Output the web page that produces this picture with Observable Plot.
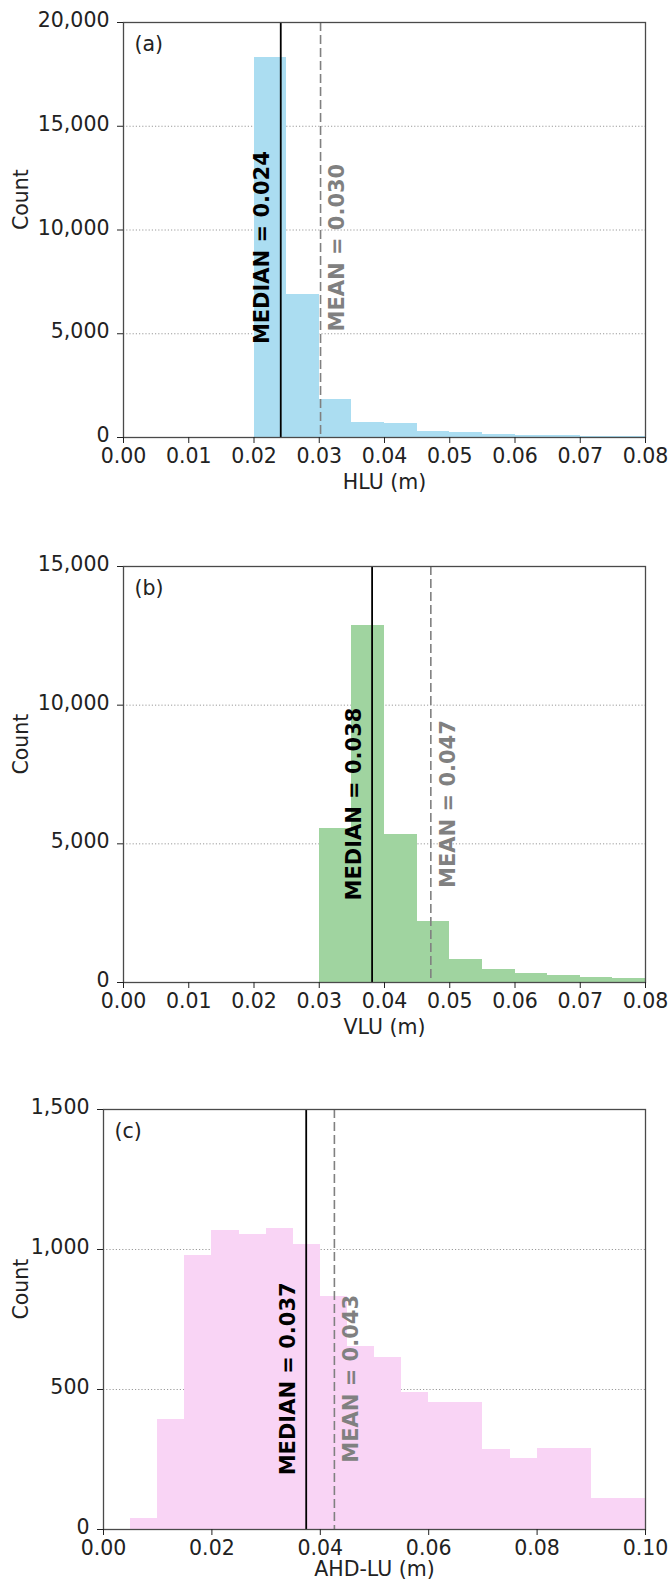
<!DOCTYPE html>
<html>
<head>
<meta charset="utf-8">
<script src="https://cdn.jsdelivr.net/npm/d3@7"></script>
<script src="https://cdn.jsdelivr.net/npm/@observablehq/plot@0.6"></script>
<style>
  html, body { margin: 0; padding: 0; background: #fff; }
  #chart { width: 672px; }
  #chart svg { display: block; }
</style>
</head>
<body>
<div id="chart"></div>
<script>
// ---- Panel (a): HLU ----
const hluEdges = [0.020, 0.025, 0.030, 0.035, 0.040, 0.045, 0.050, 0.055, 0.060, 0.065, 0.070, 0.075, 0.080];
const hluCounts = [18300, 6870, 1820, 710, 660, 305, 240, 145, 110, 96, 64, 48];
const hluMedian = 0.0241, hluMean = 0.0302;
const hluMedianLabel = "MEDIAN = 0.024", hluMeanLabel = "MEAN = 0.030";
const hluXTicks = [0, 0.01, 0.02, 0.03, 0.04, 0.05, 0.06, 0.07, 0.08];
const hluYTicks = [0, 5000, 10000, 15000, 20000];

// ---- Panel (b): VLU ----
const vluEdges = [0.030, 0.035, 0.040, 0.045, 0.050, 0.055, 0.060, 0.065, 0.070, 0.075, 0.080];
const vluCounts = [5560, 12870, 5340, 2190, 840, 480, 310, 260, 170, 160];
const vluMedian = 0.0381, vluMean = 0.0471;
const vluMedianLabel = "MEDIAN = 0.038", vluMeanLabel = "MEAN = 0.047";
const vluXTicks = [0, 0.01, 0.02, 0.03, 0.04, 0.05, 0.06, 0.07, 0.08];
const vluYTicks = [0, 5000, 10000, 15000];

// ---- Panel (c): AHD-LU ----
const ahdEdges = [0.005, 0.010, 0.015, 0.020, 0.025, 0.030, 0.035, 0.040, 0.045, 0.050, 0.055, 0.060, 0.070, 0.075, 0.080, 0.090, 0.100];
const ahdCounts = [40, 393, 980, 1068, 1054, 1076, 1019, 832, 654, 613, 490, 455, 285, 254, 288, 110];
const ahdMedian = 0.0374, ahdMean = 0.0426;
const ahdMedianLabel = "MEDIAN = 0.037", ahdMeanLabel = "MEAN = 0.043";
const ahdXTicks = [0, 0.02, 0.04, 0.06, 0.08, 0.10];
const ahdYTicks = [0, 500, 1000, 1500];

function panel(o) {
  const bins = o.counts.map((c, i) => ({x1: o.edges[i], x2: o.edges[i + 1], count: c}));
  const half = d3.max(o.counts) / 2;
  const yMax = d3.max(o.yTicks);
  const svg = Plot.plot({
    width: 672,
    height: o.height,
    marginTop: o.marginTop,
    marginBottom: o.marginBottom,
    marginLeft: o.marginLeft,
    marginRight: 27,
    x: {domain: o.xDomain},
    y: {domain: [0, yMax]},
    style: {fontFamily: "'DejaVu Sans', sans-serif", fontSize: "20.5px", color: "#222", background: "#fff", overflow: "visible"},
    marks: [
      Plot.gridY(o.yTicks.filter(d => d > 0), {stroke: "#8f8f8f", strokeOpacity: 1, strokeWidth: 0.9, strokeDasharray: "1.2,2"}),
      Plot.rect(bins, {x1: "x1", x2: "x2", y1: 0, y2: "count", fill: o.fill, shapeRendering: "crispEdges"}),
      Plot.ruleX([o.median], {stroke: "#000", strokeWidth: 1.8}),
      Plot.ruleX([o.mean], {stroke: "#808080", strokeWidth: 1.6, strokeDasharray: "9,4"}),
      Plot.text([{x: o.median, y: half, t: o.medianLabel}], {x: "x", y: "y", text: "t", rotate: -90, dx: -18, lineAnchor: "middle", fontWeight: "bold", fill: "#000", fontSize: 21}),
      Plot.text([{x: o.mean, y: half, t: o.meanLabel}], {x: "x", y: "y", text: "t", rotate: -90, dx: 17, lineAnchor: "middle", fontWeight: "bold", fill: "#808080", fontSize: 21}),
      Plot.frame({stroke: "#4a4a4a", strokeWidth: 1.3}),
      Plot.axisX({ticks: o.xTicks, tickFormat: d3.format(".2f"), tickSize: 6, tickPadding: 5, label: null}),
      Plot.axisY({ticks: o.yTicks, tickFormat: () => "", tickSize: 6, label: null}),
      Plot.axisY({ticks: o.yTicks, tickFormat: d3.format(","), tickSize: 0, tickPadding: 14, label: null, dy: -2}),
      Plot.text([o.xLabel], {frameAnchor: "bottom", dy: o.xLabelDy, lineAnchor: "middle", fill: "#222"}),
      Plot.text(["Count"], {frameAnchor: "left", dx: 21 - o.marginLeft, rotate: -90, lineAnchor: "middle", fill: "#222"}),
      Plot.text([o.tag], {frameAnchor: "top-left", dx: 11, dy: 22, textAnchor: "start", lineAnchor: "middle", fill: "#222"})
    ]
  });
  return svg;
}

const chart = document.getElementById("chart");
chart.append(panel({
  edges: hluEdges, counts: hluCounts, fill: "#abddf1",
  median: hluMedian, mean: hluMean, medianLabel: hluMedianLabel, meanLabel: hluMeanLabel,
  xDomain: [0, 0.08], xTicks: hluXTicks, yTicks: hluYTicks,
  xLabel: "HLU (m)", xLabelDy: 45, tag: "(a)",
  height: 520, marginTop: 22, marginBottom: 83, marginLeft: 123
}));
chart.append(panel({
  edges: vluEdges, counts: vluCounts, fill: "#a0d4a0",
  median: vluMedian, mean: vluMean, medianLabel: vluMedianLabel, meanLabel: vluMeanLabel,
  xDomain: [0, 0.08], xTicks: vluXTicks, yTicks: vluYTicks,
  xLabel: "VLU (m)", xLabelDy: 45, tag: "(b)",
  height: 542, marginTop: 46, marginBottom: 80, marginLeft: 123
}));
chart.append(panel({
  edges: ahdEdges, counts: ahdCounts, fill: "#f9d4f5",
  median: ahdMedian, mean: ahdMean, medianLabel: ahdMedianLabel, meanLabel: ahdMeanLabel,
  xDomain: [0, 0.10], xTicks: ahdXTicks, yTicks: ahdYTicks,
  xLabel: "AHD-LU (m)", xLabelDy: 40, tag: "(c)",
  height: 520, marginTop: 47, marginBottom: 53, marginLeft: 103
}));
</script>
</body>
</html>
